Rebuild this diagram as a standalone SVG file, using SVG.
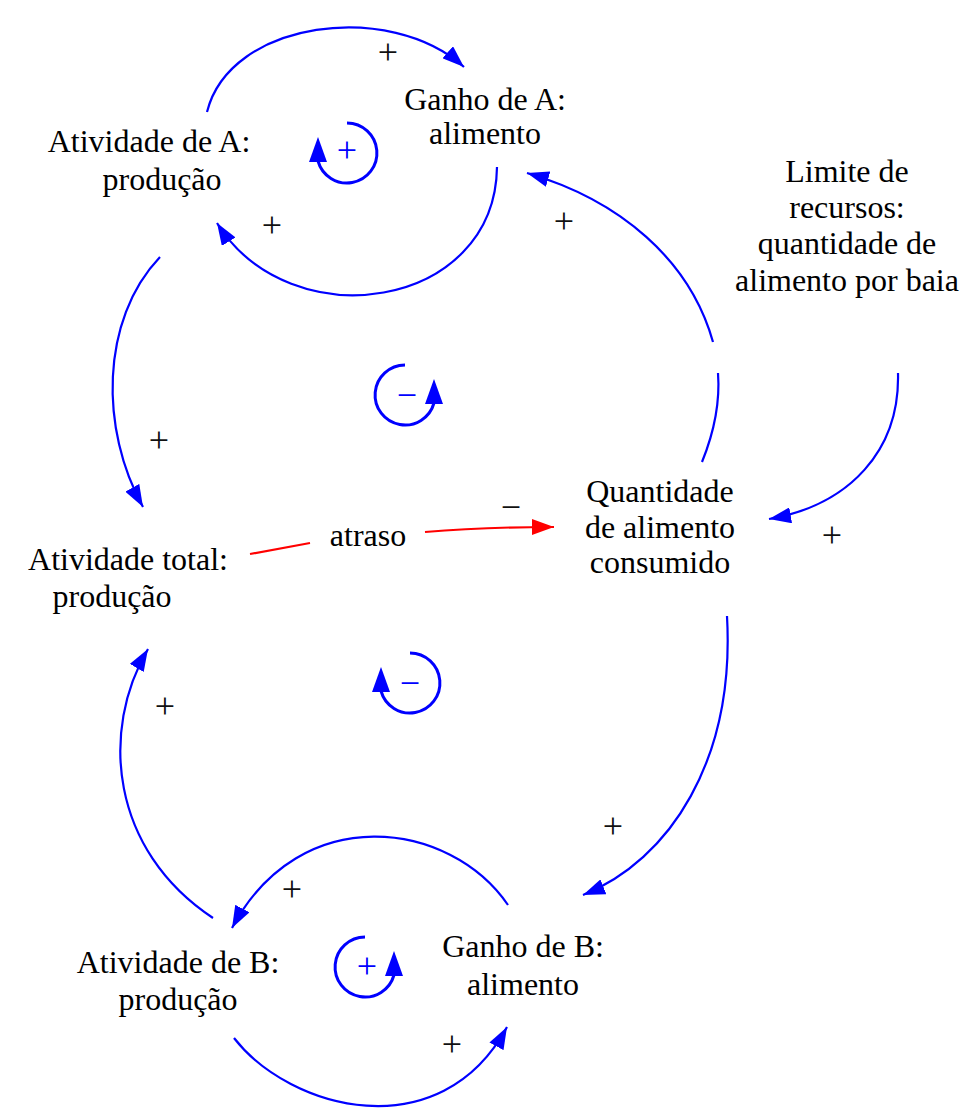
<svg xmlns="http://www.w3.org/2000/svg" width="964" height="1115" viewBox="0 0 964 1115">
<style>
.t{font-family:"Liberation Serif","Times New Roman",serif;font-size:32px;fill:#000;text-anchor:middle}
.p{font-family:"Liberation Serif","Times New Roman",serif;font-size:36px;fill:#111;text-anchor:middle}
.lp{font-family:"Liberation Serif","Times New Roman",serif;font-size:36px;fill:#0000ff;text-anchor:middle}
.c{fill:none;stroke:#0000ff;stroke-width:2.2}
.r{fill:none;stroke:#ff0000;stroke-width:2.2}
.la{fill:none;stroke:#0000ff;stroke-width:3}
</style>
<defs>
<marker id="ab" markerUnits="userSpaceOnUse" markerWidth="24" markerHeight="16" viewBox="0 0 24 16" refX="22" refY="8" orient="auto">
<path d="M0,0 L22,8 L0,16 z" fill="#0000ff"/>
</marker>
<marker id="ar" markerUnits="userSpaceOnUse" markerWidth="24" markerHeight="16" viewBox="0 0 24 16" refX="22" refY="8" orient="auto">
<path d="M0,0 L22,8 L0,16 z" fill="#ff0000"/>
</marker>
<marker id="al" markerUnits="userSpaceOnUse" markerWidth="28" markerHeight="18" viewBox="0 0 28 18" refX="1" refY="9" orient="270">
<path d="M0,0 L25,9 L0,18 z" fill="#0000ff"/>
</marker>
</defs>
<g id="connectors">
<path class="c" d="M207,112 C230,20 390,0 464,67" marker-end="url(#ab)"/>
<path class="c" d="M497,167 C495,310 290,340 217,223" marker-end="url(#ab)"/>
<path class="c" d="M160,257 C100,320 100,430 143,507" marker-end="url(#ab)"/>
<path class="r" d="M250,554 L310,543"/>
<path class="r" d="M425,532 C470,528 510,527 554,527" marker-end="url(#ar)"/>
<path class="c" d="M702,462 C715,430 720,400 718,373"/>
<path class="c" d="M713,342 C690,260 620,200 527,173" marker-end="url(#ab)"/>
<path class="c" d="M898,373 C900,450 850,505 769,519" marker-end="url(#ab)"/>
<path class="c" d="M727,616 C735,760 670,860 583,895" marker-end="url(#ab)"/>
<path class="c" d="M213,918 C110,850 100,730 148,649" marker-end="url(#ab)"/>
<path class="c" d="M508,905 C450,820 300,800 232,928" marker-end="url(#ab)"/>
<path class="c" d="M234,1038 C290,1110 440,1150 507,1027" marker-end="url(#ab)"/>
</g>
<g id="polarities">
<text class="p" x="388" y="64">+</text>
<text class="p" x="272" y="237">+</text>
<text class="p" x="564" y="233">+</text>
<text class="p" x="159" y="452">+</text>
<text class="p" x="511" y="519">−</text>
<text class="p" x="832" y="547">+</text>
<text class="p" x="165" y="718">+</text>
<text class="p" x="613" y="838">+</text>
<text class="p" x="292" y="901">+</text>
<text class="p" x="452" y="1056">+</text>
</g>
<g id="loop-R1">
<path class="la" d="M347,123 A30,30 0 1 1 318,161" marker-end="url(#al)"/>
<text class="lp" x="347" y="162">+</text>
</g>
<g id="loop-B1">
<path class="la" d="M405,365 A30,30 0 1 0 434,403" marker-end="url(#al)"/>
<text class="lp" x="407" y="407">−</text>
</g>
<g id="loop-B2">
<path class="la" d="M410,653 A30,30 0 1 1 381,691" marker-end="url(#al)"/>
<text class="lp" x="410" y="695">−</text>
</g>
<g id="loop-R2">
<path class="la" d="M365,937 A30,30 0 1 0 394,975" marker-end="url(#al)"/>
<text class="lp" x="367" y="978">+</text>
</g>
<g id="ganhoA">
<text class="t" x="485" y="110">Ganho de A:</text>
<text class="t" x="485" y="144">alimento</text>
</g>
<g id="atividadeA">
<text class="t" x="149" y="152">Atividade de A:</text>
<text class="t" x="162" y="190">produção</text>
</g>
<g id="limite">
<text class="t" x="847" y="182">Limite de</text>
<text class="t" x="847" y="218">recursos:</text>
<text class="t" x="847" y="254">quantidade de</text>
<text class="t" x="847" y="291">alimento por baia</text>
</g>
<g id="quantidade">
<text class="t" x="660" y="502">Quantidade</text>
<text class="t" x="660" y="538">de alimento</text>
<text class="t" x="660" y="573">consumido</text>
</g>
<g id="atraso">
<text class="t" x="368" y="546">atraso</text>
</g>
<g id="atividadeTotal">
<text class="t" x="128" y="570">Atividade total:</text>
<text class="t" x="112" y="607">produção</text>
</g>
<g id="atividadeB">
<text class="t" x="178" y="973">Atividade de B:</text>
<text class="t" x="178" y="1010">produção</text>
</g>
<g id="ganhoB">
<text class="t" x="523" y="957">Ganho de B:</text>
<text class="t" x="523" y="995">alimento</text>
</g>
</svg>
